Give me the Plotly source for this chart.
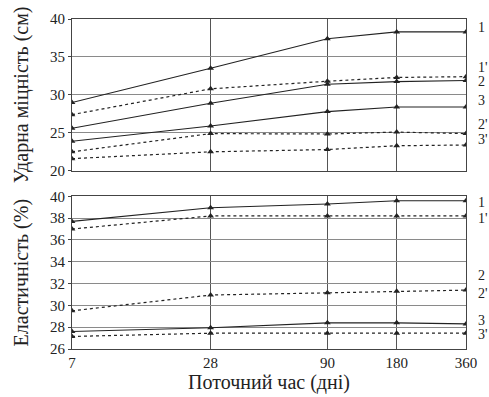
import plotly.graph_objects as go
import math

# Curing time, days
days = [7, 28, 90, 180, 360]
day_ticks = ["7", "28", "90", "180", "360"]

# Impact strength (cm)
impact_1 = [29.0, 33.5, 37.4, 38.3, 38.3]
impact_1p = [27.4, 30.8, 31.8, 32.3, 32.4]
impact_2 = [25.6, 28.9, 31.4, 31.75, 31.9]
impact_3 = [23.9, 25.9, 27.8, 28.4, 28.4]
impact_2p = [22.5, 24.9, 24.85, 25.1, 24.9]
impact_3p = [21.6, 22.5, 22.8, 23.3, 23.4]

# Elasticity (%)
elast_1 = [37.7, 38.95, 39.3, 39.6, 39.6]
elast_1p = [37.0, 38.2, 38.2, 38.2, 38.2]
elast_2p = [29.5, 30.95, 31.15, 31.3, 31.4]
elast_3 = [27.6, 27.95, 28.4, 28.4, 28.3]
elast_3p = [27.15, 27.45, 27.45, 27.45, 27.45]

# Curve labels at the right edge: (text, value)
impact_labels = [("1", 38.9), ("1'", 33.6), ("2", 31.8), ("3", 29.2), ("2'", 26.1), ("3'", 24.1)]
elast_labels = [("1", 39.4), ("1'", 38.0), ("2", 32.7), ("2'", 31.1), ("3", 28.6), ("3'", 27.3)]

INK = "#222222"
FONT = "Liberation Serif"

fig = go.Figure()

def add_curve(y, dashed, yaxis):
    fig.add_trace(go.Scatter(
        x=days, y=y, mode="lines+markers", yaxis=yaxis, xaxis="x" if yaxis == "y" else "x2",
        line=dict(color=INK, width=1.1 if not dashed else 1.2, dash="dot" if dashed else "solid"),
        marker=dict(symbol="triangle-up", size=6, color=INK),
        showlegend=False, hoverinfo="skip",
    ))

for ys, d in [(impact_1, False), (impact_1p, True), (impact_2, False),
              (impact_3, False), (impact_2p, True), (impact_3p, True)]:
    add_curve(ys, d, "y")

for ys, d in [(elast_1, False), (elast_1p, True), (elast_2p, True),
              (elast_3, False), (elast_3p, True)]:
    add_curve(ys, d, "y2")

xr = [math.log10(7), math.log10(360)]
x_common = dict(
    type="log", range=xr, tickvals=days, ticktext=day_ticks,
    showgrid=True, gridcolor="#555555", gridwidth=1,
    showline=True, linecolor="#444444", linewidth=1, mirror=True,
    ticks="", zeroline=False,
    tickfont=dict(family=FONT, size=15, color=INK),
)
y_common = dict(
    showgrid=True, gridcolor="#8a8a8a", gridwidth=1,
    showline=True, linecolor="#444444", linewidth=1, mirror=True,
    ticks="outside", ticklen=3, tickcolor="#444444", zeroline=False,
    tickfont=dict(family=FONT, size=15, color=INK),
    title_font=dict(family=FONT, size=20, color=INK),
    title_standoff=15,
)

fig.update_layout(
    width=489, height=397,
    margin=dict(l=72, r=23, t=11, b=38),
    paper_bgcolor="white", plot_bgcolor="white",
    xaxis=dict(x_common, domain=[0, 1], anchor="y", showticklabels=False),
    xaxis2=dict(x_common, domain=[0, 1], anchor="y2",
                title=dict(text="Поточний час (дні)", standoff=1,
                           font=dict(family=FONT, size=20, color=INK))),
    yaxis=dict(y_common, domain=[0.540, 1], range=[20, 40], tickvals=[20, 25, 30, 35, 40],
               anchor="x", title=dict(text="Ударна міцність (см)")),
    yaxis2=dict(y_common, domain=[0, 0.4626], range=[26, 40], tickvals=list(range(26, 41, 2)),
                anchor="x2", title=dict(text="Еластичність (%)")),
)

for text, v in impact_labels:
    fig.add_annotation(x=1.025, xref="paper", y=v, yref="y", text=text, showarrow=False,
                       xanchor="left", font=dict(family=FONT, size=14, color=INK))
for text, v in elast_labels:
    fig.add_annotation(x=1.025, xref="paper", y=v, yref="y2", text=text, showarrow=False,
                       xanchor="left", font=dict(family=FONT, size=14, color=INK))

fig.write_html("out.html")
